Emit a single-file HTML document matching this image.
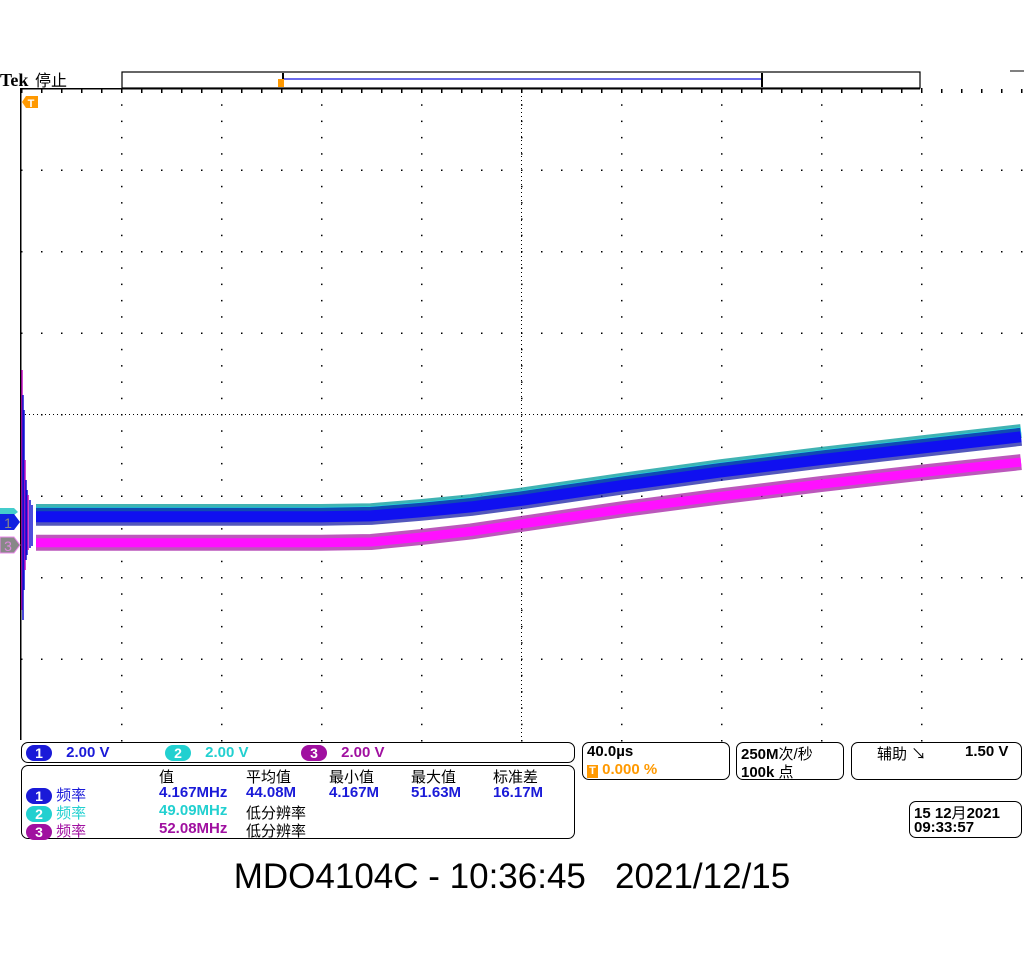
<!DOCTYPE html>
<html><head><meta charset="utf-8">
<style>
body{margin:0;width:1024px;height:960px;background:#fff;overflow:hidden;font-family:"Liberation Sans","Noto Sans CJK SC",sans-serif;}
.box{position:absolute;border:1.5px solid #000;border-radius:7px;box-sizing:border-box;}
.t{position:absolute;font-size:15px;font-weight:bold;white-space:nowrap;}
.cj{font-weight:normal;}
.badge{display:inline-block;width:26px;height:16px;border-radius:8px;color:#fff;text-align:center;line-height:16px;font-size:14px;font-weight:bold;vertical-align:middle;}
</style></head>
<body>
<svg id="scope" width="1024" height="960" style="position:absolute;left:0;top:0">
  <text x="0" y="86" font-family="Liberation Serif,serif" font-weight="bold" font-size="18">Tek</text>
  <text x="35" y="86" font-family="Liberation Sans,'Noto Sans CJK SC',sans-serif" font-size="16">停止</text>
  <rect x="122" y="72" width="798" height="16" fill="#fff" stroke="#000" stroke-width="1.2"/>
  <line x1="283" y1="79" x2="762" y2="79" stroke="#1010e0" stroke-width="1.2"/>
  <line x1="283" y1="73" x2="283" y2="87" stroke="#000" stroke-width="2"/>
  <line x1="762" y1="73" x2="762" y2="87" stroke="#000" stroke-width="2"/>
  <rect x="278" y="79" width="6" height="8" fill="#f90"/>
  <line x1="1010" y1="71" x2="1024" y2="71" stroke="#000"/>
  <g id="grid"></g>
  <g id="traces"></g>
  <g>
    <polygon points="22,102 26,96 38,96 38,108 26,108" fill="#f90"/>
    <text x="31" y="107" font-size="11" font-weight="bold" fill="#fff" text-anchor="middle">T</text>
  </g>
  <g><polygon points="0,508 14,508 18,512 14,515 0,515" fill="#4cc" /></g>
  <g><polygon points="0,514 14,514 20,522 14,530 0,530" fill="#1020e0"/><text x="8" y="528" font-size="14" fill="#888" text-anchor="middle">1</text></g>
  <g><polygon points="0,537 14,537 20,545 14,553 0,553" fill="#888" stroke="#e8e" stroke-width="1"/><text x="8" y="551" font-size="14" fill="#d8d" text-anchor="middle">3</text></g>
  <text x="512" y="888" font-size="35" text-anchor="middle" font-family="Liberation Sans,sans-serif" style="white-space:pre">MDO4104C - 10:36:45   2021/12/15</text>
</svg>

<div class="box" style="left:21px;top:742px;width:554px;height:21px">
  <span class="t" style="left:4px;top:1px"><span class="badge" style="background:#1a1ad8">1</span> <span style="color:#1a1ad8;margin-left:10px">2.00 V</span></span>
  <span class="t" style="left:143px;top:1px"><span class="badge" style="background:#22d0d0">2</span> <span style="color:#22d0d0;margin-left:10px">2.00 V</span></span>
  <span class="t" style="left:279px;top:1px"><span class="badge" style="background:#a010a0">3</span> <span style="color:#a010a0;margin-left:10px">2.00 V</span></span>
</div>
<div class="box" style="left:21px;top:765px;width:554px;height:74px">
  <span class="t cj" style="left:137px;top:0px">值</span>
  <span class="t cj" style="left:224px;top:0px">平均值</span>
  <span class="t cj" style="left:307px;top:0px">最小值</span>
  <span class="t cj" style="left:389px;top:0px">最大值</span>
  <span class="t cj" style="left:471px;top:0px">标准差</span>
  <span class="t" style="left:4px;top:18px"><span class="badge" style="background:#1a1ad8">1</span> <span class="cj" style="color:#1a1ad8">频率</span></span>
  <span class="t" style="left:137px;top:18px;color:#1a1ad8">4.167MHz</span>
  <span class="t" style="left:224px;top:18px;color:#1a1ad8">44.08M</span>
  <span class="t" style="left:307px;top:18px;color:#1a1ad8">4.167M</span>
  <span class="t" style="left:389px;top:18px;color:#1a1ad8">51.63M</span>
  <span class="t" style="left:471px;top:18px;color:#1a1ad8">16.17M</span>
  <span class="t" style="left:4px;top:36px"><span class="badge" style="background:#22d0d0">2</span> <span class="cj" style="color:#22d0d0">频率</span></span>
  <span class="t" style="left:137px;top:36px;color:#22d0d0">49.09MHz</span>
  <span class="t cj" style="left:224px;top:36px">低分辨率</span>
  <span class="t" style="left:4px;top:54px"><span class="badge" style="background:#a010a0">3</span> <span class="cj" style="color:#a010a0">频率</span></span>
  <span class="t" style="left:137px;top:54px;color:#a010a0">52.08MHz</span>
  <span class="t cj" style="left:224px;top:54px">低分辨率</span>
</div>
<div class="box" style="left:582px;top:742px;width:148px;height:38px">
  <span class="t" style="left:4px;top:0px">40.0µs</span>
  <span class="t" style="left:4px;top:18px;color:#f90"><span style="display:inline-block;width:11px;height:13px;background:#f90;color:#fff;font-size:11px;text-align:center;line-height:13px">T</span> 0.000 %</span>
</div>
<div class="box" style="left:736px;top:742px;width:108px;height:38px">
  <span class="t" style="left:4px;top:0px">250M<span class="cj">次/秒</span></span>
  <span class="t" style="left:4px;top:18px">100k <span class="cj">点</span></span>
</div>
<div class="box" style="left:851px;top:742px;width:171px;height:38px">
  <span class="t cj" style="left:25px;top:0px">辅助 ↘</span>
  <span class="t" style="left:113px;top:0px">1.50 V</span>
</div>
<div class="box" style="left:909px;top:801px;width:113px;height:37px">
  <span class="t" style="left:4px;top:0px">15 12<span class="cj">月</span>2021</span>
  <span class="t" style="left:4px;top:17px">09:33:57</span>
</div>

<script>
// data: time in divisions (0..10), values in divisions relative to screen center (+ up)
const timeDiv = [0.15, 1, 2, 3, 3.5, 4, 4.5, 5, 6, 7, 8, 9, 10];
const ch1Div  = [-1.26, -1.26, -1.26, -1.26, -1.25, -1.20, -1.14, -1.06, -0.88, -0.71, -0.56, -0.42, -0.28];
const ch2Div  = [-1.19, -1.19, -1.19, -1.19, -1.18, -1.13, -1.07, -0.99, -0.81, -0.64, -0.49, -0.35, -0.21];
const ch3Div  = [-1.58, -1.58, -1.58, -1.58, -1.57, -1.51, -1.44, -1.35, -1.17, -1.01, -0.86, -0.72, -0.59];

const X0 = 21, DX = 100, YC = 414, DY = 81.5;
const xOf = t => X0 + t * DX;
const yOf = v => YC - v * DY;
const NS = 'http://www.w3.org/2000/svg';
const grid = document.getElementById('grid');
function dot(x, y, w, h) {
  const r = document.createElementNS(NS, 'rect');
  r.setAttribute('x', x); r.setAttribute('y', y); r.setAttribute('width', w); r.setAttribute('height', h);
  r.setAttribute('fill', '#000');
  grid.appendChild(r);
}
dot(20, 88, 1.5, 652);
dot(20, 88, 900, 1.5);
for (let i = 1; i < 10; i++) { for (let y = 88; y <= 740; y += 16.3) dot(xOf(i), y, 1.5, 1.5); }
for (let j = 1; j < 8; j++) { const y = 88 + j * DY; for (let x = 21; x <= 1021; x += 20) dot(x, y, 1.5, 1.5); }
for (let x = 21; x <= 1021; x += 4) dot(x, YC, 1, 1);
for (let y = 88; y <= 740; y += 4) dot(xOf(5), y, 1, 1);
for (let x = 21; x <= 1021; x += 20) { dot(x, 89, 1.5, 4); }
const traces = document.getElementById('traces');
function band(vals, color, width, op) {
  let d = '';
  timeDiv.forEach((t, i) => { d += (i ? 'L' : 'M') + xOf(t).toFixed(1) + ',' + yOf(vals[i]).toFixed(1); });
  d += 'L1021,' + yOf(vals[vals.length - 1]).toFixed(1);
  const p = document.createElementNS(NS, 'path');
  p.setAttribute('d', d); p.setAttribute('fill', 'none'); p.setAttribute('stroke', color);
  p.setAttribute('stroke-width', width); p.setAttribute('stroke-opacity', op);
  p.setAttribute('stroke-linejoin', 'round');
  
  
  traces.appendChild(p);
}
band(ch2Div, '#10a0a0', 14, 0.8);
band(ch2Div, '#20d8e0', 8, 1);
band(ch1Div, '#0a10a0', 18, 0.7);
band(ch1Div, '#1010f0', 11, 1);
band(ch3Div, '#a010a0', 16, 0.7);
band(ch3Div, '#ff10ff', 9, 1);
const spikeX = [22, 23, 24, 25, 26, 27, 28, 30, 32];
const spikeTop = [370, 395, 410, 460, 480, 490, 495, 500, 505];
const spikeBot = [610, 620, 590, 570, 560, 555, 550, 548, 546];
spikeX.forEach((x, i) => {
  const l = document.createElementNS(NS, 'line');
  l.setAttribute('x1', x); l.setAttribute('x2', x);
  l.setAttribute('y1', spikeTop[i]); l.setAttribute('y2', spikeBot[i]);
  l.setAttribute('stroke', i % 3 === 0 ? '#c010c0' : '#1010d0'); l.setAttribute('stroke-width', 1.5);
  
  
  traces.appendChild(l);
});
</script>
</body></html>
